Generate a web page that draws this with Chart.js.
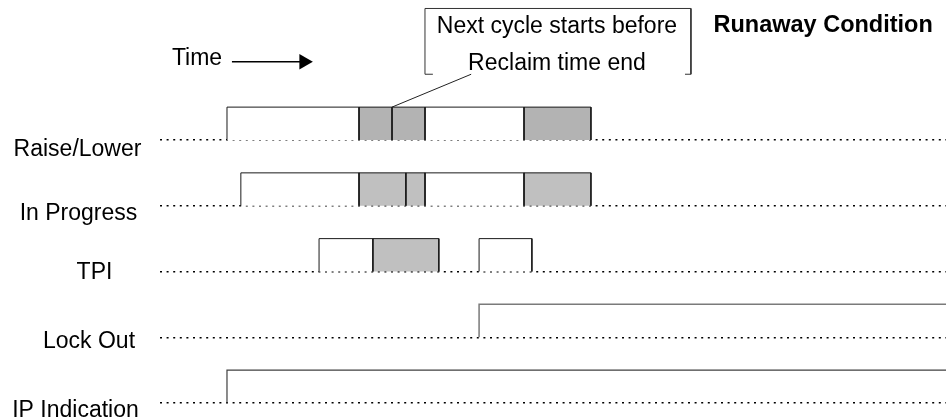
<!DOCTYPE html>
<html>
<head>
<meta charset="utf-8">
<script src="https://cdn.jsdelivr.net/npm/chart.js@4.4.1/dist/chart.umd.min.js"></script>
<style>
  html, body { margin: 0; padding: 0; background: #fff; }
</style>
</head>
<body>
<canvas id="chart" width="946" height="420"></canvas>
<script>
// signal rows, top to bottom, and the level of each baseline
var rows = ['Raise/Lower', 'In Progress', 'TPI', 'Lock Out', 'IP Indication'];
var rowLevel = [4, 3, 2, 1, 0];
var highLevel = 0.5;

// time is counted in reclaim slots, 0 = first Raise/Lower
var raiseLower = [[0, 4], [4, 5], [5, 6], [6, 9], [9, 11.03]];
var raiseLowerShade = [0, 1, 1, 0, 1];
var inProgress = [[0.42, 4], [4, 5.42], [5.42, 6], [6, 9], [9, 11.03]];
var inProgressShade = [0, 1, 1, 0, 1];
var tpi = [[2.79, 4.42], [4.42, 6.42], [7.64, 9.24]];
var tpiShade = [0, 1, 0];
var lockOutRise = 7.64;
var ipIndicationRise = 0;
var timeStart = -2.03;
var timeEnd = 21.79;

var calloutLines = ['Next cycle starts before', 'Reclaim time end'];
var calloutFrom = 5;      // divider in Raise/Lower the note points at
var title = 'Runaway Condition';
var timeLabel = 'Time';

// layout only
var FONT = '"Liberation Sans", Arial, sans-serif';
var labelCenterX = [77.5, 78.5, 94.5, 89, 75.5];
var labelDrop = [16, 14, 7.5, 11, 14.5];
var greys = ['#ffffff', '#b3b3b3'];
var greysLight = ['#ffffff', '#c0c0c0'];


/**
 * one pulse drawn as an open box sitting on the row baseline
 */
function pulse(seg, level, fillColor) {
  return {
    type: 'line',
    data: [
      {x: seg[0], y: level},
      {x: seg[0], y: level + highLevel},
      {x: seg[1], y: level + highLevel},
      {x: seg[1], y: level}
    ],
    fill: 'shape',
    backgroundColor: fillColor,
    borderColor: '#1a1a1a',
    borderWidth: 1,
    pointRadius: 0,
    tension: 0
  };
}

function step(rise, level, color, width) {
  return {
    type: 'line',
    data: [
      {x: rise, y: level},
      {x: rise, y: level + highLevel},
      {x: timeEnd, y: level + highLevel}
    ],
    fill: false,
    borderColor: color,
    borderWidth: width,
    pointRadius: 0
  };
}

var datasets = [];
raiseLower.forEach((s, i) => datasets.push(pulse(s, rowLevel[0], greys[raiseLowerShade[i]])));
inProgress.forEach((s, i) => datasets.push(pulse(s, rowLevel[1], greysLight[inProgressShade[i]])));
tpi.forEach((s, i) => datasets.push(pulse(s, rowLevel[2], greysLight[tpiShade[i]])));
datasets.push(step(lockOutRise, rowLevel[3], '#7a7a7a', 1.5));
datasets.push(step(ipIndicationRise, rowLevel[4], '#404040', 1.2));

// callout bracket (top and sides, short feet at the bottom)
datasets.push({
  type: 'line',
  data: [{x: 6.24, y: 5}, {x: 6, y: 5}, {x: 6, y: 6}, {x: 14.06, y: 6}, {x: 14.06, y: 5}, {x: 13.88, y: 5}],
  borderColor: '#333', borderWidth: 1, pointRadius: 0, fill: false
});
// leader from the Raise/Lower divider to the callout
datasets.push({
  type: 'line',
  data: [{x: calloutFrom, y: rowLevel[0] + highLevel}, {x: 7.4, y: 5}],
  borderColor: '#222', borderWidth: 1, pointRadius: 0, fill: false
});
// time arrow
datasets.push({
  type: 'line',
  data: [{x: 0.15, y: 5.19}, {x: 2.33, y: 5.19}],
  borderColor: '#000', borderWidth: 1.5,
  pointRadius: [0, 9], pointStyle: 'triangle', pointRotation: 90,
  pointBackgroundColor: '#000', pointBorderWidth: 0, fill: false
});

var textPlugin = {
  id: 'texts',
  afterDraw(chart) {
    let c = chart.ctx;
    let xs = chart.scales.x, ys = chart.scales.y;
    c.save();
    c.fillStyle = '#000';
    c.textBaseline = 'alphabetic';
    c.font = '23px ' + FONT;
    c.textAlign = 'center';
    rows.forEach((r, i) => {
      c.fillText(r, labelCenterX[i], ys.getPixelForValue(rowLevel[i]) + labelDrop[i]);
    });
    c.fillText(calloutLines[0], xs.getPixelForValue(10), ys.getPixelForValue(5.63));
    c.fillText(calloutLines[1], xs.getPixelForValue(10), ys.getPixelForValue(5.065));
    c.textAlign = 'left';
    c.fillText(timeLabel, xs.getPixelForValue(-1.67), ys.getPixelForValue(5.14));
    c.font = 'bold 23.5px ' + FONT;
    c.textAlign = 'right';
    c.fillText(title, xs.getPixelForValue(21.39), ys.getPixelForValue(5.64));
    c.restore();
  }
};

new Chart(document.getElementById('chart').getContext('2d'), {
  data: {datasets: datasets},
  options: {
    responsive: false,
    animation: false,
    layout: {padding: 0, autoPadding: false},
    plugins: {legend: {display: false}, tooltip: {enabled: false}},
    scales: {
      x: {type: 'linear', min: timeStart, max: timeEnd, display: false},
      y: {
        type: 'linear',
        min: -0.2586,
        max: 6.129,
        position: 'left',
        z: 1,
        afterFit: s => { s.width = 160; },
        afterBuildTicks: s => { s.ticks = rowLevel.map(v => ({value: v})); },
        ticks: {display: false},
        grid: {drawTicks: false, color: '#000', lineWidth: 1.4},
        border: {display: false, dash: [2, 4.6]}
      }
    }
  },
  plugins: [textPlugin]
});
</script>
</body>
</html>
